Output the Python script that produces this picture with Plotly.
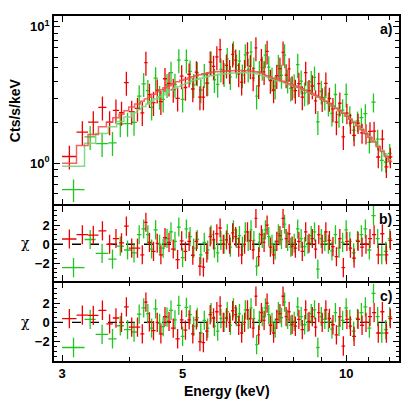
import math
import plotly.graph_objects as go

# ---- data ----
# energy bin edges, keV
red_edges = [3.00, 3.19, 3.35, 3.50, 3.62, 3.72, 3.82, 3.90, 3.98, 4.08,
             4.18, 4.25, 4.31, 4.38, 4.46, 4.52, 4.60, 4.68, 4.76, 4.85,
             4.94, 5.02, 5.10, 5.18, 5.26, 5.34, 5.42, 5.50, 5.58, 5.66,
             5.74, 5.82, 5.90, 5.98, 6.06, 6.14, 6.22, 6.30, 6.38, 6.46,
             6.54, 6.62, 6.70, 6.78, 6.86, 6.94, 7.02, 7.10, 7.20, 7.30,
             7.40, 7.50, 7.60, 7.70, 7.80, 7.90, 8.00, 8.12, 8.24, 8.36,
             8.48, 8.60, 8.72, 8.84, 8.96, 9.10, 9.24, 9.38, 9.52, 9.66,
             9.80, 9.95, 10.10, 10.25, 10.42, 10.60, 10.78, 10.96, 11.15, 11.35,
             11.55, 11.75, 11.95, 12.15]
red_counts = [1.12, 1.69, 2.00, 2.57, 2.00, 2.44, 2.35, 3.90, 2.39, 2.52,
              2.34, 5.46, 3.18, 2.78, 3.42, 2.83, 4.16, 3.85, 3.47, 2.99,
              4.35, 3.59, 4.49, 3.50, 4.66, 3.05, 3.05, 3.87, 5.50, 5.12,
              6.01, 6.80, 4.73, 5.22, 4.76, 6.28, 5.69, 4.51, 3.92, 4.77,
              6.43, 5.15, 4.21, 7.00, 3.69, 5.73, 4.67, 6.60, 4.04, 3.44,
              4.38, 4.94, 6.50, 4.43, 4.91, 3.62, 3.41, 3.83, 3.05, 4.62,
              3.40, 3.68, 2.86, 3.83, 2.96, 3.85, 2.98, 2.50, 2.00, 2.75,
              1.56, 2.33, 1.97, 1.60, 1.97, 1.67, 1.65, 1.71, 1.72, 1.11,
              1.50, 0.94, 1.11]
red_err = [0.22, 0.34, 0.40, 0.51, 0.40, 0.49, 0.47, 0.78, 0.48, 0.50,
           0.47, 1.09, 0.64, 0.56, 0.68, 0.57, 0.83, 0.77, 0.69, 0.60,
           0.87, 0.72, 0.90, 0.70, 0.93, 0.61, 0.61, 0.77, 1.10, 1.02,
           1.20, 1.36, 0.95, 1.04, 0.95, 1.26, 1.14, 0.90, 0.78, 0.95,
           1.29, 1.03, 0.84, 1.40, 0.74, 1.15, 0.93, 1.30, 0.81, 0.69,
           0.88, 0.99, 1.30, 0.89, 0.98, 0.72, 0.68, 0.77, 0.61, 0.92,
           0.68, 0.74, 0.57, 0.77, 0.59, 0.77, 0.60, 0.50, 0.40, 0.55,
           0.31, 0.40, 0.33, 0.27, 0.33, 0.28, 0.28, 0.29, 0.29, 0.19,
           0.26, 0.16, 0.19]
red_model = [1.00, 1.35, 1.62, 1.85, 2.00, 2.15, 2.28, 2.42, 2.58, 2.72,
             2.85, 2.95, 3.05, 3.20, 3.35, 3.45, 3.58, 3.70, 3.82, 3.95,
             4.05, 4.13, 4.22, 4.30, 4.38, 4.45, 4.52, 4.57, 4.62, 4.66,
             4.69, 4.71, 4.73, 4.75, 4.76, 4.77, 4.78, 4.78, 4.78, 4.77,
             4.76, 4.74, 4.72, 4.69, 4.65, 4.58, 4.48, 4.38, 4.28, 4.20,
             4.12, 4.05, 3.98, 3.90, 3.83, 3.76, 3.68, 3.60, 3.51, 3.42,
             3.33, 3.24, 3.15, 3.06, 2.96, 2.85, 2.74, 2.63, 2.52, 2.42,
             2.32, 2.21, 2.10, 1.99, 1.87, 1.76, 1.65, 1.54, 1.43, 1.32,
             1.22, 1.12, 1.03]
red_chi_b = [0.55, 1.0, 0.95, 1.4, 0.0, 0.6, 0.15, 1.9, -0.4, -0.4,
             -1.1, 2.3, 0.2, -0.75, 0.1, -1.1, 0.7, 0.2, -0.5, -1.6,
             0.35, -0.75, 0.3, -1.15, 0.3, -2.3, -2.4, -0.9, 0.8, 0.45,
             1.1, 1.7, 0.0, 0.45, 0.0, 1.2, 0.8, -0.3, -1.1, 0.0,
             1.3, 0.4, -0.6, 2.7, -1.3, 1.0, 0.2, 2.0, -0.3, -1.1,
             0.3, 0.9, 2.7, 0.6, 1.1, -0.2, -0.4, 0.3, -0.75, 1.3,
             0.1, 0.6, -0.5, 1.0, 0.0, 1.3, 0.4, -0.25, -1.3, 0.6,
             -2.45, 0.3, -0.4, -1.45, 0.3, -0.3, 0.0, 0.6, 1.0, -1.1,
             1.1, -1.1, 0.4]
red_chi_c = [0.38, 0.75, 0.72, 1.25, -0.15, 0.45, 0.0, 1.6, -0.5, -0.5,
             -1.2, 2.1, 0.05, -0.85, 0.0, -1.2, 0.6, 0.1, -0.6, -1.7,
             0.25, -0.8, 0.25, -1.2, 0.25, -2.0, -2.1, -0.9, 0.8, 0.45,
             1.1, 1.7, 0.0, 0.45, 0.0, 1.2, 0.8, -0.3, -1.1, 0.0,
             1.3, 0.4, -0.6, 2.7, -1.3, 1.0, 0.2, 2.0, -0.3, -1.1,
             0.3, 0.9, 2.7, 0.6, 1.1, -0.2, -0.4, 0.3, -0.75, 1.3,
             0.1, 0.6, -0.5, 1.0, 0.0, 1.3, 0.4, -0.25, -1.3, 0.6,
             -2.45, 0.3, -0.4, -1.45, 0.3, -0.3, 0.0, 0.6, 1.0, -1.1,
             1.1, -1.1, 0.4]

green_edges = [3.00, 3.30, 3.46, 3.65, 3.78, 3.90, 4.02, 4.12, 4.20, 4.28,
               4.35, 4.42, 4.50, 4.57, 4.64, 4.72, 4.80, 4.88, 4.96, 5.04,
               5.12, 5.20, 5.28, 5.36, 5.44, 5.52, 5.60, 5.68, 5.76, 5.84,
               5.92, 6.00, 6.08, 6.16, 6.24, 6.32, 6.40, 6.48, 6.56, 6.64,
               6.72, 6.80, 6.88, 6.96, 7.05, 7.15, 7.25, 7.35, 7.45, 7.55,
               7.65, 7.75, 7.85, 7.96, 8.08, 8.20, 8.32, 8.44, 8.56, 8.68,
               8.80, 8.93, 9.06, 9.20, 9.34, 9.48, 9.62, 9.77, 9.92, 10.07,
               10.23, 10.40, 10.57, 10.75, 10.93, 11.12, 11.32, 11.52, 11.72, 11.92,
               12.12]
green_counts = [0.64, 1.56, 1.39, 1.41, 1.94, 1.95, 1.99, 3.10, 3.82, 3.40,
                2.57, 4.21, 3.07, 2.94, 3.75, 4.62, 3.77, 5.70, 2.94, 5.68,
                4.71, 3.75, 4.59, 3.44, 4.45, 3.87, 5.48, 4.09, 3.78, 4.88,
                4.52, 5.82, 4.30, 6.54, 5.22, 5.61, 4.42, 6.22, 4.88, 6.54,
                4.96, 3.10, 4.68, 5.03, 6.20, 5.06, 4.17, 3.66, 5.17, 4.40,
                6.20, 4.06, 3.54, 3.74, 5.28, 3.99, 3.26, 3.33, 3.95, 4.26,
                2.01, 3.36, 3.04, 2.75, 2.32, 3.19, 2.27, 2.45, 3.20, 2.24,
                1.75, 2.04, 2.16, 2.31, 1.42, 2.80, 1.50, 1.05, 1.02, 1.18]
green_err = [0.12, 0.31, 0.28, 0.28, 0.39, 0.39, 0.40, 0.62, 0.76, 0.68,
             0.51, 0.84, 0.61, 0.59, 0.75, 0.92, 0.75, 1.14, 0.59, 1.14,
             0.94, 0.75, 0.92, 0.69, 0.89, 0.77, 1.10, 0.82, 0.76, 0.98,
             0.90, 1.16, 0.86, 1.31, 1.04, 1.12, 0.88, 1.24, 0.98, 1.31,
             0.99, 0.62, 0.94, 1.01, 1.24, 1.01, 0.83, 0.73, 1.03, 0.88,
             1.24, 0.81, 0.71, 0.75, 1.06, 0.80, 0.65, 0.67, 0.79, 0.85,
             0.40, 0.67, 0.61, 0.55, 0.46, 0.64, 0.45, 0.49, 0.64, 0.38,
             0.30, 0.35, 0.37, 0.39, 0.24, 0.45, 0.26, 0.18, 0.17, 0.20]
green_model = [0.95, 1.40, 1.65, 1.85, 2.02, 2.18, 2.35, 2.48, 2.60, 2.72,
               2.83, 2.95, 3.07, 3.18, 3.30, 3.42, 3.54, 3.65, 3.76, 3.86,
               3.96, 4.05, 4.13, 4.20, 4.27, 4.33, 4.38, 4.42, 4.46, 4.49,
               4.52, 4.54, 4.56, 4.58, 4.59, 4.60, 4.60, 4.60, 4.59, 4.58,
               4.56, 4.53, 4.49, 4.43, 4.34, 4.25, 4.17, 4.10, 4.03, 3.96,
               3.89, 3.82, 3.75, 3.67, 3.59, 3.51, 3.42, 3.33, 3.24, 3.15,
               3.06, 2.96, 2.86, 2.75, 2.65, 2.55, 2.45, 2.35, 2.24, 2.13,
               2.02, 1.90, 1.79, 1.68, 1.57, 1.46, 1.35, 1.25, 1.15, 1.06]
green_chi_b = [-2.45, 0.5, -0.95, -1.55, -0.2, -0.6, -0.9, 1.0, 1.6, 1.0,
               -0.5, 1.5, 0.0, -0.4, 0.6, 1.3, 0.3, 1.8, -1.4, 1.6,
               0.8, -0.4, 0.5, -1.1, 0.2, -0.6, 1.0, -0.4, -0.9, 0.4,
               0.0, 1.1, -0.3, 1.5, 0.6, 0.9, -0.2, 1.3, 0.3, 1.5,
               0.4, -2.3, 0.2, 0.6, 1.5, 0.8, 0.0, -0.6, 1.1, 0.5,
               2.1, 0.3, -0.3, 0.1, 1.6, 0.6, -0.25, 0.0, 0.9, 1.3,
               -2.6, 0.6, 0.3, 0.0, -0.7, 1.0, -0.4, 0.2, 1.5, 0.3,
               -0.9, 0.4, 1.0, 1.6, -0.6, 3.0, 0.6, -1.1, -0.75, 0.6]
green_chi_c = [-2.6, 0.3, -1.25, -1.7, -0.35, -0.75, -1.0, 0.85, 1.5, 0.9,
               -0.6, 1.4, -0.1, -0.45, 0.55, 1.25, 0.25, 1.75, -1.45, 1.55,
               0.8, -0.4, 0.5, -1.1, 0.2, -0.6, 1.0, -0.4, -0.9, 0.4,
               0.0, 1.1, -0.3, 1.5, 0.6, 0.9, -0.2, 1.3, 0.3, 1.5,
               0.4, -2.3, 0.2, 0.6, 1.5, 0.8, 0.0, -0.6, 1.1, 0.5,
               2.1, 0.3, -0.3, 0.1, 1.6, 0.6, -0.25, 0.0, 0.9, 1.3,
               -2.6, 0.6, 0.3, 0.0, -0.7, 1.0, -0.4, 0.2, 1.5, 0.3,
               -0.9, 0.4, 1.0, 1.6, -0.6, 3.0, 0.6, -1.1, -0.75, 0.6]

RED = 'rgb(238,0,0)'
GREEN = 'rgb(30,200,30)'
RED_MODEL = 'rgba(245,70,70,0.85)'
GREEN_MODEL = 'rgba(120,215,120,0.9)'
FONT = 'Liberation Sans, Arial, Helvetica, sans-serif'

# panel boundaries (fraction of plot height); small offsets so the two
# axis lines on each shared edge fall on top of each other
PX = 0.75 / 345
AB = 0.45217
BC = 0.22899
dom_a = [AB + PX, 1]
dom_b = [BC + PX, AB - PX]
dom_c = [0, BC - PX]


def bins(edges):
    lo = edges[:-1]
    hi = edges[1:]
    mid = [(a + b) / 2 for a, b in zip(lo, hi)]
    return mid, [b - m for b, m in zip(hi, mid)], [m - a for a, m in zip(lo, mid)]


def data_trace(x, xp, xm, y, yerr, color, xa, ya):
    return go.Scatter(
        x=x, y=y, mode='markers', xaxis=xa, yaxis=ya,
        marker=dict(size=1, color=color),
        error_x=dict(type='data', array=xp, arrayminus=xm, color=color, thickness=1.3, width=0),
        error_y=dict(type='data', array=yerr, color=color, thickness=1.3, width=0),
        showlegend=False, hoverinfo='skip')


fig = go.Figure()

for edges, counts, err, chi_b, chi_c, color in [
        (green_edges, green_counts, green_err, green_chi_b, green_chi_c, GREEN),
        (red_edges, red_counts, red_err, red_chi_b, red_chi_c, RED)]:
    mid, xp, xm = bins(edges)
    ones = [1.0] * len(mid)
    fig.add_trace(data_trace(mid, xp, xm, counts, err, color, 'x', 'y'))
    fig.add_trace(data_trace(mid, xp, xm, chi_b, ones, color, 'x2', 'y2'))
    fig.add_trace(data_trace(mid, xp, xm, chi_c, ones, color, 'x3', 'y3'))

# folded model, drawn as histograms
for edges, model, color in [(green_edges, green_model, GREEN_MODEL), (red_edges, red_model, RED_MODEL)]:
    fig.add_trace(go.Scatter(x=edges, y=model + model[-1:], mode='lines', line_shape='hv',
                             line=dict(color=color, width=1.5), xaxis='x', yaxis='y',
                             showlegend=False, hoverinfo='skip'))

axis_common = dict(showline=True, linecolor='black', linewidth=1.5, mirror='allticks',
                   ticks='inside', ticklen=6, tickwidth=1.2, tickcolor='black',
                   showgrid=False, zeroline=False, automargin=False,
                   tickfont=dict(family=FONT, size=13, color='black', weight='bold'))

xrange = [math.log10(2.9), math.log10(12.5)]
xminor = dict(tickmode='array', tickvals=[4, 6, 7, 8, 9, 11, 12], ticks='inside',
              ticklen=4, tickwidth=1, tickcolor='black', showgrid=False)
res_minor = dict(tickmode='array', tickvals=[-3.5, -3, -2.5, -1.5, -1, -0.5, 0.5, 1, 1.5, 2.5, 3, 3.5],
                 ticks='inside', ticklen=3, tickwidth=1, tickcolor='black', showgrid=False)

# the page body adds an 8 px margin, so the figure is 399 px and sits at (8, 8)
fig.update_layout(
    width=399, height=399,
    margin=dict(l=46, r=8, t=8, b=46, autoexpand=False),
    paper_bgcolor='white', plot_bgcolor='white',
    xaxis=dict(axis_common, domain=[0, 1], anchor='y', type='log', range=xrange,
               tickmode='array', tickvals=[3, 5, 10], showticklabels=False, minor=xminor),
    xaxis2=dict(axis_common, domain=[0, 1], anchor='y2', type='log', range=xrange,
                tickmode='array', tickvals=[3, 5, 10], showticklabels=False, minor=xminor, matches='x'),
    xaxis3=dict(axis_common, domain=[0, 1], anchor='y3', type='log', range=xrange,
                tickmode='array', tickvals=[3, 5, 10], ticktext=['3', '5', '10'], minor=xminor, matches='x'),
    yaxis=dict(axis_common, domain=dom_a, anchor='x', type='log',
               range=[math.log10(0.5), math.log10(12)],
               tickmode='array', tickvals=[1, 10], ticktext=['10<sup>0</sup>', '10<sup>1</sup>'],
               minor=dict(tickmode='array', tickvals=[0.5, 0.6, 0.7, 0.8, 0.9, 2, 3, 4, 5, 6, 7, 8, 9, 11],
                          ticks='inside', ticklen=4, tickwidth=1, tickcolor='black', showgrid=False)),
    yaxis2=dict(axis_common, domain=dom_b, anchor='x2', range=[-3.87, 4.03],
                tickmode='array', tickvals=[-2, 0, 2], minor=res_minor),
    yaxis3=dict(axis_common, domain=dom_c, anchor='x3', range=[-4.0, 4.1],
                tickmode='array', tickvals=[-2, 0, 2], minor=res_minor),
)

for n in ['2', '3']:
    fig.add_shape(type='line', xref='x%s domain' % n, x0=0, x1=1, yref='y' + n, y0=0, y1=0,
                  line=dict(color='black', width=1.3, dash='dash'), layer='below')

bold = dict(family=FONT, size=14, color='black', weight='bold')
for ref, label in [('', 'a)'), ('2', 'b)'), ('3', 'c)')]:
    fig.add_annotation(xref='x%s domain' % ref, yref='y%s domain' % ref, x=0.985, y=1, yshift=-3,
                       xanchor='right', yanchor='top', text=label, showarrow=False, font=bold)

fig.add_annotation(xref='paper', yref='paper', x=0.5, y=-0.087, text='Energy (keV)',
                   showarrow=False, xanchor='center', yanchor='middle', font=bold)
fig.add_annotation(xref='paper', yref='paper', x=-0.113, y=(dom_a[0] + 1) / 2, text='Cts/s/keV',
                   textangle=-90, showarrow=False, xanchor='center', yanchor='middle', font=bold)
for dom in [dom_b, dom_c]:
    fig.add_annotation(xref='paper', yref='paper', x=-0.084, y=(dom[0] + dom[1]) / 2, text='χ',
                       showarrow=False, xanchor='center', yanchor='middle',
                       font=dict(family='DejaVu Serif, serif', size=14, color='black'))

fig.write_html("out.html")
